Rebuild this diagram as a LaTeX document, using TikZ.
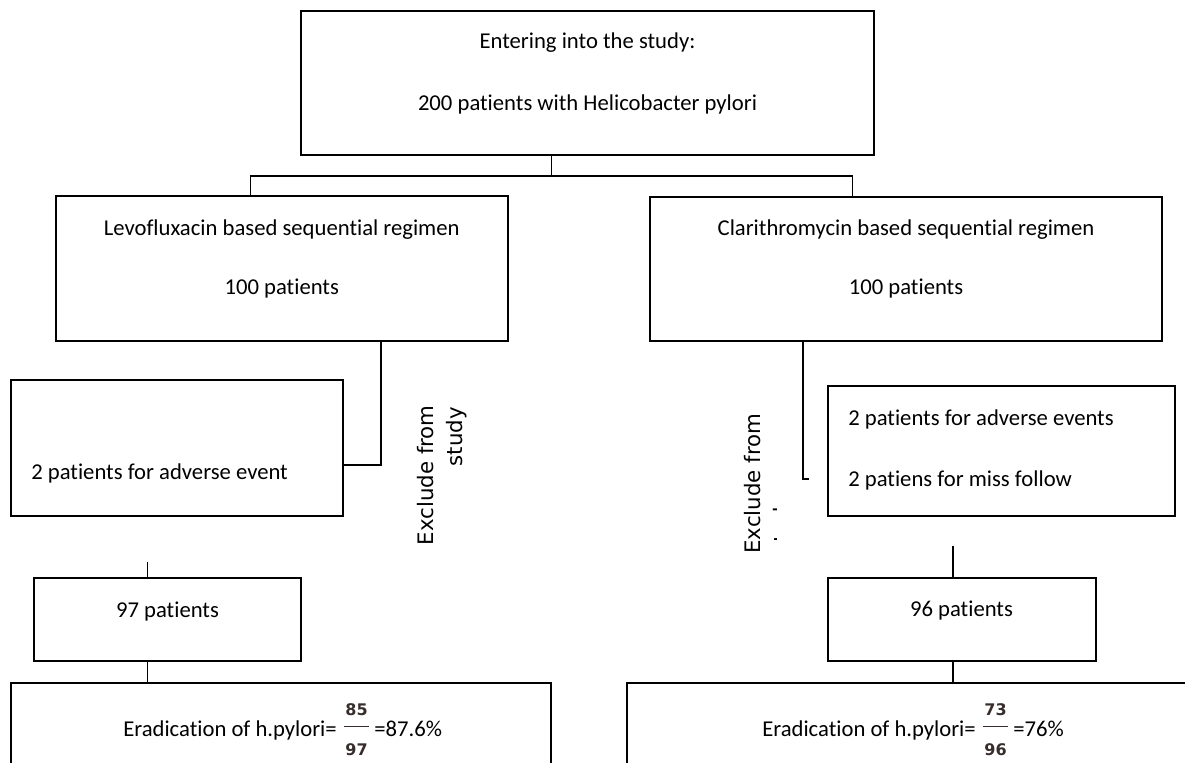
\documentclass[tikz,border=0pt]{standalone}
\usepackage{fontspec}
\setmainfont{Carlito}[Ligatures=NoCommon]
\newfontfamily\rotfont{DejaVu Sans}
\usetikzlibrary{calc}
\definecolor{numcol}{RGB}{55,45,45}
\begin{document}
\begin{tikzpicture}[x=0.75pt,y=-0.75pt,
  box/.style 2 args={draw, line width=1.5pt, inner sep=0pt, minimum width=#1*0.75pt, minimum height=#2*0.75pt},
  conn/.style={draw, line width=1.2pt},
  txt/.style={inner sep=0pt, font=\fontsize{17}{20}\selectfont, anchor=base},
  rot/.style={inner sep=0pt, font=\rotfont\fontsize{16}{19}\selectfont, rotate=90},
  num/.style={inner sep=0pt, font=\rotfont\bfseries\fontsize{12}{14}\selectfont, text=numcol, anchor=base},
  fbar/.style={draw=numcol, line width=1pt}]
\useasboundingbox (0,0) rectangle (1185,763);
\fill[white] (0,0) rectangle (1185,763);
\clip (0,0) rectangle (1185,763);

% boxes
\node[box={573}{144}] (top) at (587.5,83) {};
\node[box={452.5}{144.5}] (levo) at (281.75,268.75) {};
\node[box={512}{144}] (clar) at (906,269) {};
\node[box={332.3}{135.5}] (ex1) at (176.85,447.75) {};
\node[box={347}{129.5}] (ex2) at (1001.5,450.75) {};
\node[box={267}{83}] (p97) at (167.5,619.5) {};
\node[box={268}{83}] (p96) at (961.5,619.5) {};
\node[box={540.3}{117}] (er1) at (280.85,741.5) {};
\node[box={623}{117}] (er2) at (938.5,741.5) {};

% texts
\node[txt] (t1) at (587.5,49) {Entering into the study:};
\node[txt] (t2) at (587.5,111) {200 patients with Helicobacter pylori};
\node[txt] (l1) at (281.75,235) {Levofluxacin based sequential regimen};
\node[txt] (l2) at (281.75,294) {100 patients};
\node[txt] (c1) at (906,235) {Clarithromycin based sequential regimen};
\node[txt] (c2) at (906,294) {100 patients};
\node[txt, anchor=base west] (x1) at (31,479) {2 patients for adverse event};
\node[txt, anchor=base west] (x2a) at (848,425) {2 patients for adverse events};
\node[txt, anchor=base west] (x2b) at (848,486) {2 patiens for miss follow};
\node[txt] (n97) at (167.5,617) {97 patients};
\node[txt] (n96) at (961.5,616) {96 patients};

% rotated labels
\node[rot, anchor=base east] (exa) at (433,405) {Exclude from};
\node[rot, anchor=base east] (exb) at (462,407) {study};
\node[rot, anchor=base west] (exc) at (760.5,554) {Exclude from};
\begin{scope}
  \clip (700,400) rectangle (776.5,600);
  \node[rot, anchor=base west] (exd) at (789.5,554) {study};
\end{scope}

% connectors
\draw[conn] ($(top.south)+(-36,0)$) -- ++(0,20) coordinate (j);
\draw[conn] ($(levo.north)+(-31.25,0)$) |- (j) -| ($(clar.north)+(-53.5,0)$);
\draw[conn] ($(levo.south)+(99.25,0)$) |- ($(ex1.east)+(0,17.25)$);
\draw[conn] ($(clar.south)+(-103,0)$) |- ++(6,137) coordinate (hk);

\coordinate (s1) at ($(p97.north)+(-20,-15)$);
\draw[conn] (s1) -- (s1 |- p97.north);
\coordinate (a97) at ($(p97.south)+(-20,0)$);
\draw[conn] (a97) -- (a97 |- er1.north);

\coordinate (s2) at ($(p96.north)+(-8.5,-31)$);
\draw[conn] (s2) -- (s2 |- p96.north);
\coordinate (a96) at ($(p96.south)+(-8.5,0)$);
\draw[conn] (a96) -- (a96 |- er2.north);

% eradication texts with fractions
\node[txt, anchor=base west] (e1) at (123,736) {Eradication of h.pylori=};
\coordinate (b1) at ($(e1.base east)+(7,-9.5)$);
\draw[fbar] (b1) -- ++(25,0) coordinate (b1e);
\node[num] (f1n) at ($(b1)+(12.5,-11)$) {85};
\node[num] (f1d) at ($(b1)+(12.5,28.5)$) {97};
\node[txt, anchor=base west] (r1) at ($(e1.base east)+(37,0)$) {=87.6\%};

\node[txt, anchor=base west] (e2) at (762,736) {Eradication of h.pylori=};
\coordinate (b2) at ($(e2.base east)+(7,-9.5)$);
\draw[fbar] (b2) -- ++(25,0) coordinate (b2e);
\node[num] (f2n) at ($(b2)+(12.5,-11)$) {73};
\node[num] (f2d) at ($(b2)+(12.5,28.5)$) {96};
\node[txt, anchor=base west] (r2) at ($(e2.base east)+(37,0)$) {=76\%};
\end{tikzpicture}
\end{document}
